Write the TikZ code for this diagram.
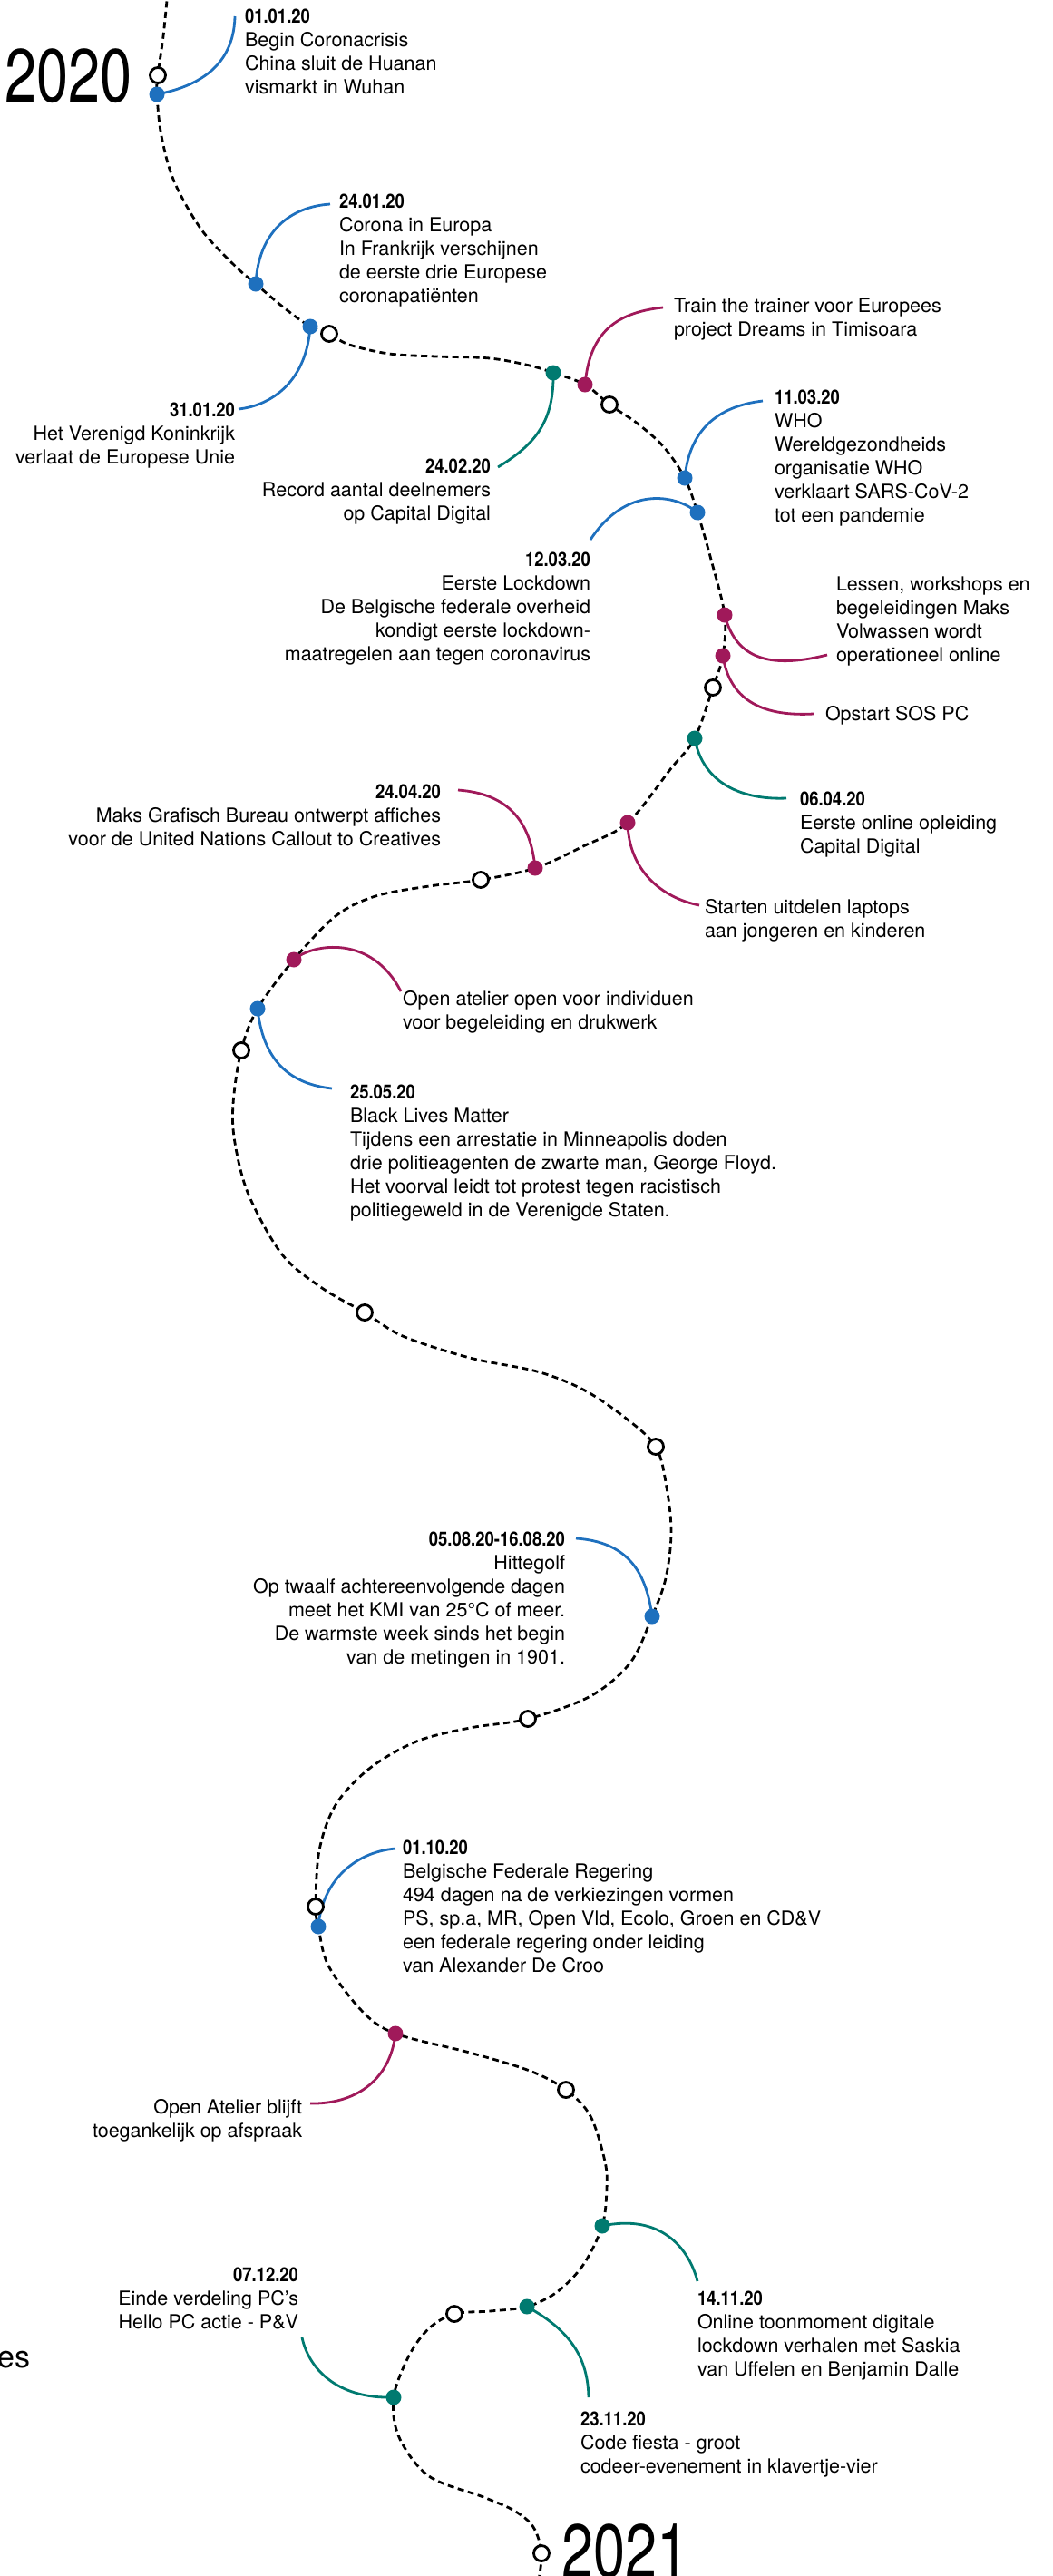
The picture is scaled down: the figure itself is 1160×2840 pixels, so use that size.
\documentclass[tikz,border=0pt]{standalone}
\usepackage{fontspec}
\setmainfont{TeX Gyre Heros}
\usepackage{graphicx}
\definecolor{cblue}{RGB}{30,112,190}
\definecolor{cteal}{RGB}{0,122,112}
\definecolor{cmag}{RGB}{160,25,90}
\newcommand\dt[1]{\scalebox{0.86}[1]{\bfseries #1}}
\newcommand\bigyear[1]{\scalebox{0.76}[1]{\fontsize{83bp}{83bp}\selectfont #1}}
\pgfdeclarelayer{bg}
\pgfsetlayers{bg,main}
\begin{document}
\begin{tikzpicture}[x=1bp,y=-1bp,
  tl/.style={line width=2.8bp, dash pattern=on 7bp off 4.5bp},
  conn/.style={line width=2.8bp, draw=#1},
  ev/.style={circle, fill=#1, minimum size=17bp, inner sep=0pt},
  ring/.style={circle, draw=black, fill=white, line width=2.8bp, minimum size=17bp, inner sep=0pt},
  lab/.style={font=\fontsize{21.5bp}{26bp}\selectfont, inner sep=0pt, outer sep=0pt},
  labl/.style={lab, align=left, anchor=base west},
  labr/.style={lab, align=right, anchor=base east},
]
\useasboundingbox (0,0) rectangle (1160,2840);

% open rings
\node[ring] (c1) at (174,83) {};
\node[ring] (c2) at (363,368) {};
\node[ring] (c3) at (672,446) {};
\node[ring] (c4) at (786,758) {};
\node[ring] (c5) at (530,970) {};
\node[ring] (c6) at (266,1158) {};
\node[ring] (c7) at (402,1447) {};
\node[ring] (c8) at (723,1595) {};
\node[ring] (c9) at (582,1895) {};
\node[ring] (c10) at (348,2102) {};
\node[ring] (c11) at (624,2304) {};
\node[ring] (c12) at (501,2551) {};
\node[ring] (c13) at (597,2815) {};

% event dots
\node[ev=cblue] (d1) at (173,104) {};
\node[ev=cblue] (d2) at (282,313) {};
\node[ev=cblue] (d3) at (342,360) {};
\node[ev=cteal] (d4) at (610,411) {};
\node[ev=cmag] (d5) at (645,424) {};
\node[ev=cblue] (d6) at (755,527) {};
\node[ev=cblue] (d7) at (769,565) {};
\node[ev=cmag] (d8) at (799,678) {};
\node[ev=cmag] (d9) at (797,723) {};
\node[ev=cteal] (d10) at (766,814) {};
\node[ev=cmag] (d11) at (692,907) {};
\node[ev=cmag] (d12) at (590,957) {};
\node[ev=cmag] (d13) at (324,1058) {};
\node[ev=cblue] (d14) at (284,1112) {};
\node[ev=cblue] (d15) at (719,1782) {};
\node[ev=cblue] (d16) at (351,2124) {};
\node[ev=cmag] (d17) at (436,2242) {};
\node[ev=cteal] (d18) at (664,2454) {};
\node[ev=cteal] (d19) at (581,2543) {};
\node[ev=cteal] (d20) at (434,2643) {};

% years
\node[inner sep=0pt, anchor=base east] (y2020) at (146,112) {\bigyear{2020}};
\node[inner sep=0pt, anchor=base west] (y2021) at (619,2841) {\bigyear{2021}};
\node[inner sep=0pt, anchor=base west, font=\fontsize{34bp}{34bp}\selectfont] (frag) at (-3,2610) {es};

% labels (anchor = baseline of last line)
\node[labl] (l1) at (270,103) {\dt{01.01.20}\\Begin Coronacrisis\\China sluit de Huanan\\vismarkt in Wuhan};
\node[labl] (l2) at (374,333) {\dt{24.01.20}\\Corona in Europa\\In Frankrijk verschijnen\\de eerste drie Europese\\coronapatiënten};
\node[labr] (l3) at (259,511) {\dt{31.01.20}\\Het Verenigd Koninkrijk\\verlaat de Europese Unie};
\node[labl] (l4) at (743,370) {Train the trainer voor Europees\\project Dreams in Timisoara};
\node[labr] (l5) at (541,573) {\dt{24.02.20}\\Record aantal deelnemers\\op Capital Digital};
\node[labl] (l6) at (854,575) {\dt{11.03.20}\\WHO\\Wereldgezondheids\\organisatie WHO\\verklaart SARS-CoV-2\\tot een pandemie};
\node[labr] (l7) at (651,728) {\dt{12.03.20}\\Eerste Lockdown\\De Belgische federale overheid\\kondigt eerste lockdown-\\maatregelen aan tegen coronavirus};
\node[labl] (l8) at (922,729) {Lessen, workshops en\\begeleidingen Maks\\Volwassen wordt\\operationeel online};
\node[labl] (l9) at (910,794) {Opstart SOS PC};
\node[labl] (l10) at (882,940) {\dt{06.04.20}\\Eerste online opleiding\\Capital Digital};
\node[labl] (l11) at (777,1033) {Starten uitdelen laptops\\aan jongeren en kinderen};
\node[labr] (l12) at (486,932) {\dt{24.04.20}\\Maks Grafisch Bureau ontwerpt affiches\\voor de United Nations Callout to Creatives};
\node[labl] (l13) at (444,1134) {Open atelier open voor individuen\\voor begeleiding en drukwerk};
\node[labl] (l14) at (386,1341) {\dt{25.05.20}\\Black Lives Matter\\Tijdens een arrestatie in Minneapolis doden\\drie politieagenten de zwarte man, George Floyd.\\Het voorval leidt tot protest tegen racistisch\\politiegeweld in de Verenigde Staten.};
\node[labr] (l15) at (623,1834) {\dt{05.08.20-16.08.20}\\Hittegolf\\Op twaalf achtereenvolgende dagen\\meet het KMI van 25°C of meer.\\De warmste week sinds het begin\\van de metingen in 1901.};
\node[labl] (l16) at (444,2174) {\dt{01.10.20}\\Belgische Federale Regering\\494 dagen na de verkiezingen vormen\\PS, sp.a, MR, Open Vld, Ecolo, Groen en CD\&V\\een federale regering onder leiding\\van Alexander De Croo};
\node[labr] (l17) at (333,2356) {Open Atelier blijft\\toegankelijk op afspraak};
\node[labl] (l18) at (769,2619) {\dt{14.11.20}\\Online toonmoment digitale\\lockdown verhalen met Saskia\\van Uffelen en Benjamin Dalle};
\node[labl] (l19) at (640,2726) {\dt{23.11.20}\\Code fiesta - groot\\codeer-evenement in klavertje-vier};
\node[labr] (l20) at (329,2567) {\dt{07.12.20}\\Einde verdeling PC’s\\Hello PC actie - P\&V};

% connector ends
\coordinate (e1) at (259,18);
\coordinate (e2) at (364,225);
\coordinate (e3) at (263,451);
\coordinate (e4) at (731,339);
\coordinate (e5) at (549,515);
\coordinate (e6) at (841,442);
\coordinate (e7) at (651,595);
\coordinate (e8) at (912,722);
\coordinate (e9) at (897,787);
\coordinate (e10) at (867,880);
\coordinate (e11) at (771,998);
\coordinate (e12) at (505,871);
\coordinate (e13) at (442,1093);
\coordinate (e14) at (366,1200);
\coordinate (e15) at (635,1696);
\coordinate (e16) at (436,2038);
\coordinate (e17) at (342,2319);
\coordinate (e18) at (769,2515);
\coordinate (e19) at (649,2643);
\coordinate (e20) at (333,2577);

\begin{pgfonlayer}{bg}
\draw[tl] plot[smooth, tension=0.55] coordinates {
 (185,-10) (180,40) (c1.center) (d1.center) (178,150) (192,200) (222,253) (259,293)
 (d2.center) (314,340) (d3.center) (c2.center) (385,380) (429,390) (481,393) (540,395) (584,403)
 (d4.center) (d5.center) (c3.center) (703,467) (732,493) (d6.center) (d7.center) (784,617)
 (d8.center) (d9.center) (c4.center) (d10.center) (740,847) (d11.center) (643,933) (d12.center)
 (c5.center) (473,977) (414,988) (370,1010) (d13.center) (d14.center) (c6.center) (257,1217)
 (259,1260) (274,1317) (311,1383) (355,1420) (c7.center) (444,1473) (518,1497) (592,1512)
 (643,1532) (688,1562) (c8.center) (735,1640) (740,1690) (734,1740) (d15.center) (695,1833)
 (651,1870) (c9.center) (518,1905) (459,1920) (407,1950) (370,1990) (352,2040) (c10.center)
 (d16.center) (362,2167) (399,2217) (d17.center) (518,2263) (584,2283) (c11.center) (651,2333)
 (667,2383) (669,2413) (d18.center) (643,2497) (614,2527) (d19.center) (540,2548) (c12.center)
 (473,2567) (451,2597) (d20.center) (440,2687) (473,2730) (533,2753) (567,2768) (588,2786)
 (c13.center) (593,2850)};

\draw[conn=cblue] (d1.center) .. controls (235,92) and (258,60) .. (e1);
\draw[conn=cblue] (d2.center) .. controls (285,255) and (320,228) .. (e2);
\draw[conn=cblue] (d3.center) .. controls (338,420) and (300,447) .. (e3);
\draw[conn=cmag] (d5.center) .. controls (650,370) and (675,345) .. (e4);
\draw[conn=cteal] (d4.center) .. controls (611,465) and (590,490) .. (e5);
\draw[conn=cblue] (d6.center) .. controls (760,475) and (790,448) .. (e6);
\draw[conn=cblue] (d7.center) .. controls (745,545) and (690,535) .. (e7);
\draw[conn=cmag] (d8.center) .. controls (810,720) and (840,740) .. (e8);
\draw[conn=cmag] (d9.center) .. controls (805,775) and (845,790) .. (e9);
\draw[conn=cteal] (d10.center) .. controls (775,865) and (820,882) .. (e10);
\draw[conn=cmag] (d11.center) .. controls (693,960) and (730,990) .. (e11);
\draw[conn=cmag] (d12.center) .. controls (585,905) and (560,875) .. (e12);
\draw[conn=cmag] (d13.center) .. controls (345,1040) and (410,1030) .. (e13);
\draw[conn=cblue] (d14.center) .. controls (290,1170) and (320,1195) .. (e14);
\draw[conn=cblue] (d15.center) .. controls (712,1730) and (690,1700) .. (e15);
\draw[conn=cblue] (d16.center) .. controls (355,2075) and (390,2042) .. (e16);
\draw[conn=cmag] (d17.center) .. controls (430,2295) and (390,2320) .. (e17);
\draw[conn=cteal] (d18.center) .. controls (730,2440) and (760,2480) .. (e18);
\draw[conn=cteal] (d19.center) .. controls (630,2570) and (648,2600) .. (e19);
\draw[conn=cteal] (d20.center) .. controls (370,2645) and (340,2610) .. (e20);
\end{pgfonlayer}
\end{tikzpicture}
\end{document}
